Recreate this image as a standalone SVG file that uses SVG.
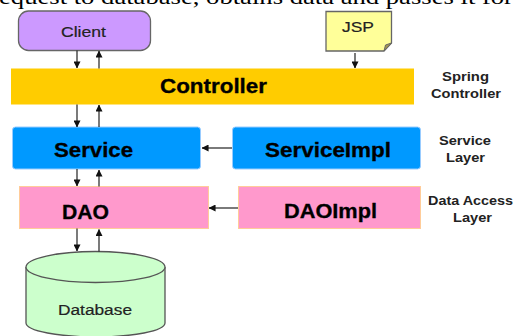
<svg xmlns="http://www.w3.org/2000/svg" width="513" height="336" viewBox="0 0 513 336">
<style>
text{font-family:"Liberation Sans",Arial,sans-serif;fill:#111;text-anchor:middle}
.b{font-weight:bold;font-size:20px;fill:#000;stroke:#000;stroke-width:.3px}
.l{font-weight:bold;font-size:12.500px;fill:#222}
.n{font-size:15.500px;fill:#222;stroke:#222;stroke-width:.2px}
.c{stroke:#222;stroke-width:1.2;fill:none}
.body{font-family:"Liberation Serif",serif;font-size:21.500px;fill:#000;text-anchor:start}
</style>
<defs>
<marker id="a" viewBox="0 0 8 8" refX="7.500" refY="4" markerWidth="7" markerHeight="7" markerUnits="userSpaceOnUse" orient="auto"><path d="M0 0L8 4L0 8Z" fill="#111"/></marker>
</defs>
<text class="body" x="-1" y="3.500" textLength="514" lengthAdjust="spacingAndGlyphs">equest to database, obtains data and passes it for</text>
<g id="client"><rect x="18.500" y="11" width="132" height="39.500" rx="10" fill="#cc99ff" stroke="#666" stroke-width="1.300"/><text class="n" x="83.500" y="37" textLength="45" lengthAdjust="spacingAndGlyphs">Client</text></g>
<g id="jsp"><path d="M326 11.500H391.500V43L384 51H326Z" fill="#ffff99" stroke="#666" stroke-width="1.300"/><path d="M384 51L385.500 45L391.500 43Z" fill="#a89a50" stroke="#666"/><text class="n" x="358" y="32" textLength="32" lengthAdjust="spacingAndGlyphs">JSP</text></g>
<g id="controller"><rect x="11" y="68.500" width="403" height="36" fill="#ffcc00"/><text class="b" x="213.500" y="92.500" textLength="107" lengthAdjust="spacingAndGlyphs">Controller</text></g>
<g id="spring-label"><text class="l" x="465.500" y="81" textLength="47" lengthAdjust="spacingAndGlyphs">Spring</text><text class="l" x="466" y="97.500" textLength="70" lengthAdjust="spacingAndGlyphs">Controller</text></g>
<g id="service"><rect x="12.500" y="127" width="188" height="42" rx="3" fill="#0099ff" stroke="#99ccff"/><text class="b" x="93.500" y="157" textLength="79" lengthAdjust="spacingAndGlyphs">Service</text></g>
<g id="serviceimpl"><rect x="232.500" y="127" width="188" height="42" rx="3" fill="#0099ff" stroke="#99ccff"/><text class="b" x="328" y="157" textLength="126" lengthAdjust="spacingAndGlyphs">ServiceImpl</text></g>
<g id="service-label"><text class="l" x="465" y="145" textLength="52" lengthAdjust="spacingAndGlyphs">Service</text><text class="l" x="465.500" y="162" textLength="39" lengthAdjust="spacingAndGlyphs">Layer</text></g>
<g id="dao"><rect x="19.500" y="186.500" width="189" height="42" fill="#ff99cc" stroke="#ffcc99"/><text class="b" x="85.500" y="218.500" textLength="47" lengthAdjust="spacingAndGlyphs">DAO</text></g>
<g id="daoimpl"><rect x="238.500" y="186.500" width="182" height="42" fill="#ff99cc" stroke="#ffcc99"/><text class="b" x="330.500" y="218" textLength="93" lengthAdjust="spacingAndGlyphs">DAOImpl</text></g>
<g id="dao-label"><text class="l" x="470.500" y="205" textLength="85" lengthAdjust="spacingAndGlyphs">Data Access</text><text class="l" x="472.500" y="222" textLength="39" lengthAdjust="spacingAndGlyphs">Layer</text></g>
<g id="database"><path d="M26 267V323C26 331 60 337 96 337C132 337 165 331 165 323V267" fill="#ccffcc" stroke="#555" stroke-width="1.300"/><ellipse cx="95.500" cy="267" rx="69.500" ry="15.500" fill="#ccffcc" stroke="#555" stroke-width="1.300"/><text class="n" x="95" y="315" textLength="74" lengthAdjust="spacingAndGlyphs">Database</text></g>
<g id="connectors">
<path class="c" marker-end="url(#a)" d="M77 50.500V68"/><path class="c" marker-end="url(#a)" d="M99 68.500V51"/>
<path class="c" marker-end="url(#a)" d="M355 53V68"/>
<path class="c" marker-end="url(#a)" d="M77 104.500V127"/><path class="c" marker-end="url(#a)" d="M99 127V105"/>
<path class="c" marker-end="url(#a)" d="M77 169V186"/><path class="c" marker-end="url(#a)" d="M99 186.500V170"/>
<path class="c" marker-end="url(#a)" d="M232 148H202"/><path class="c" marker-end="url(#a)" d="M238 208H209"/>
<path class="c" marker-end="url(#a)" d="M77 228.500V251"/><path class="c" marker-end="url(#a)" d="M99 251.500V229.500"/>
</g>
</svg>
